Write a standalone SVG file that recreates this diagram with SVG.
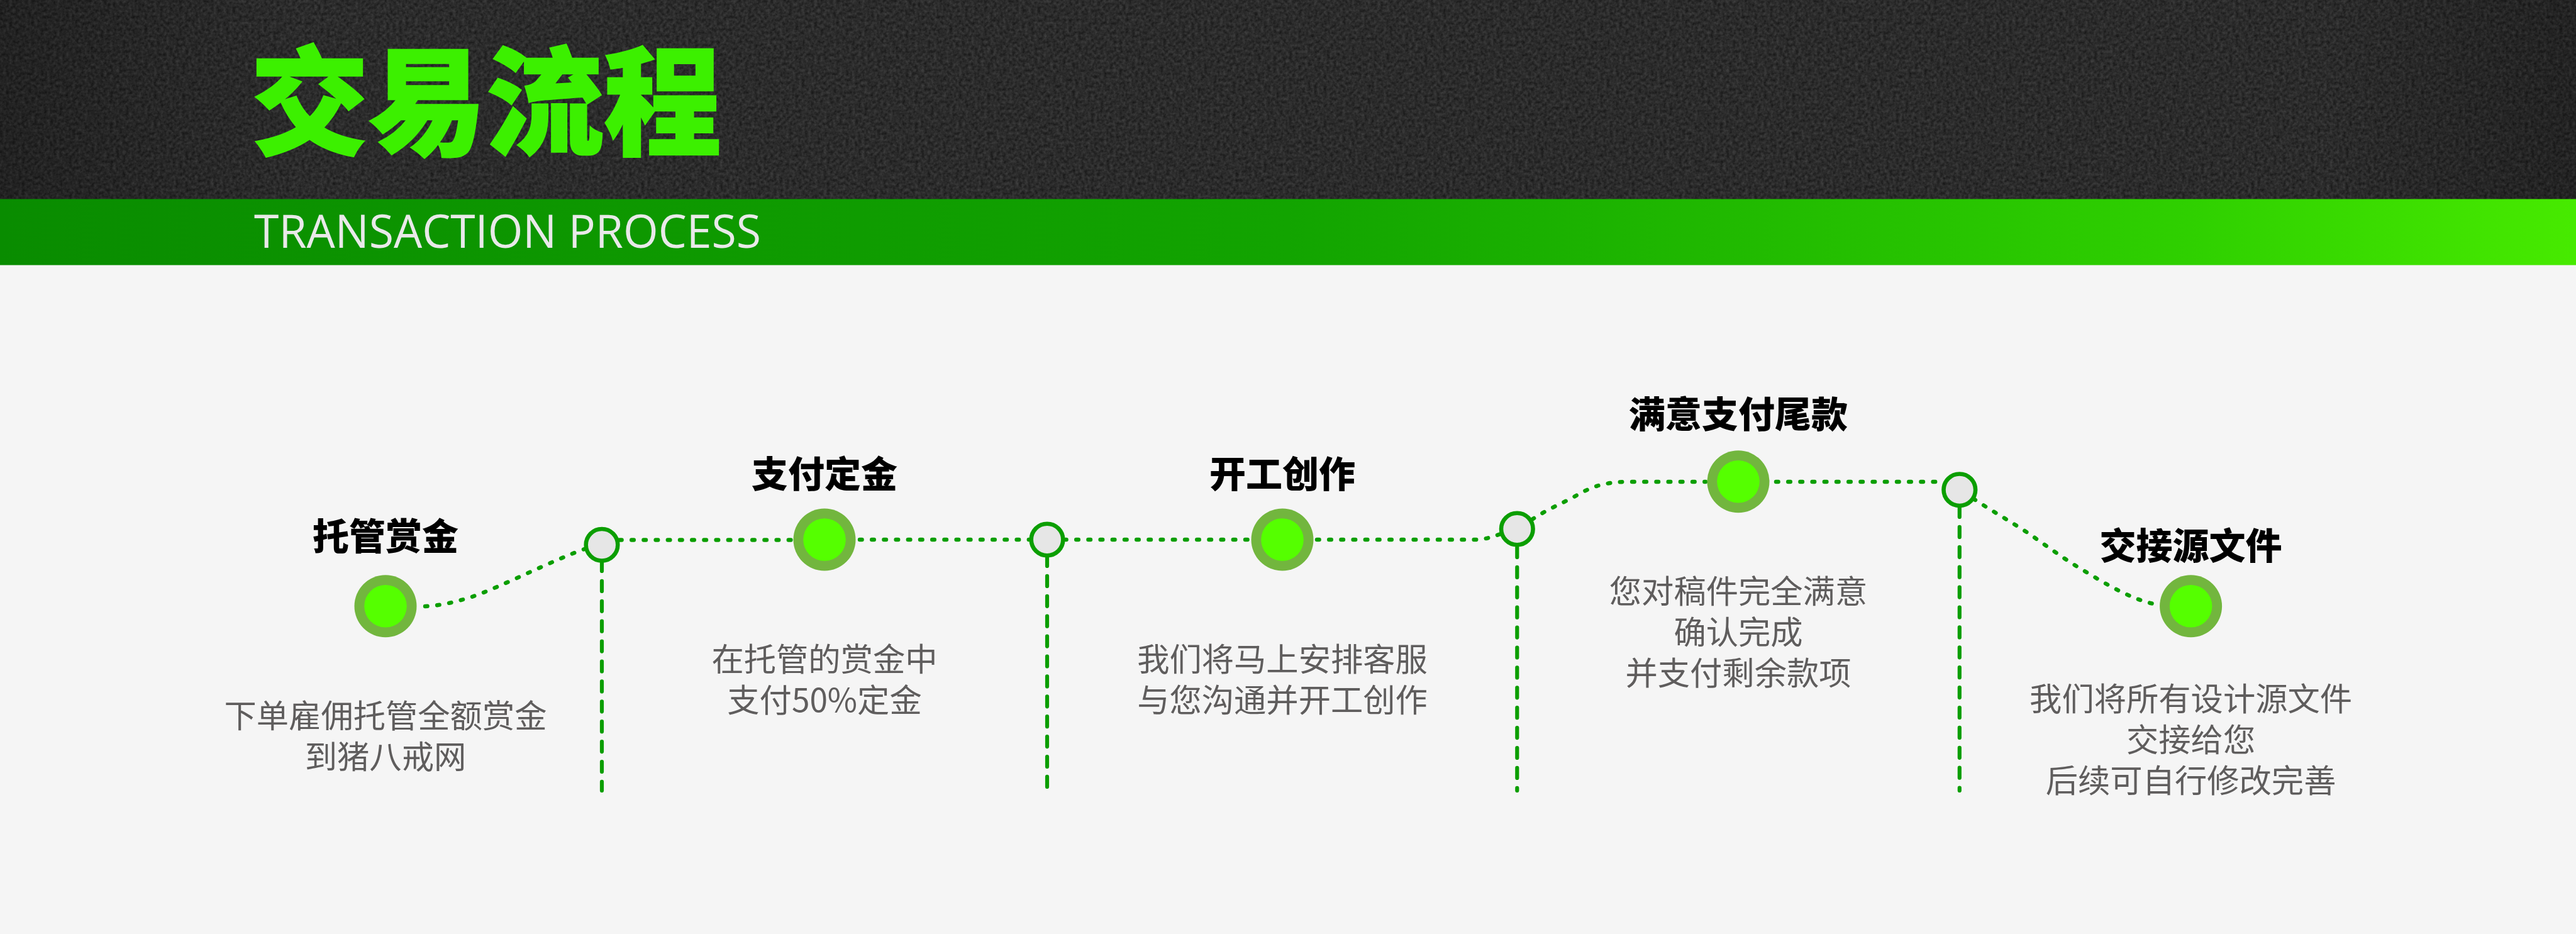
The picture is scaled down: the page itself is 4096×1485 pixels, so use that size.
<svg xmlns="http://www.w3.org/2000/svg" width="4096" height="1485" viewBox="0 0 4096 1485">
<style>
text{font-family:"Noto Sans CJK SC","Noto Sans",sans-serif}
.t{font-size:58px;font-weight:900;fill:#000;text-anchor:middle}
.d{font-size:51.3px;font-weight:400;fill:#5f5d5d;text-anchor:middle}
.o{fill:#72b63e}.i{fill:#55ff00}
.j{fill:#e6e6e6;stroke:#0b9e00;stroke-width:6.6}
.dot{fill:none;stroke:#0b9e00;stroke-width:6.4;stroke-linecap:round;stroke-dasharray:3.6 15.6}
.dash{fill:none;stroke:#0b9e00;stroke-width:6.2;stroke-linecap:round;stroke-dasharray:16 15.9}
</style>
<defs>
<filter id="noise" x="0" y="0" width="100%" height="100%" color-interpolation-filters="sRGB">
<feTurbulence type="fractalNoise" baseFrequency="0.2" numOctaves="3" seed="4"/>
<feColorMatrix values="0.2 0 0 0 0.07  0.2 0 0 0 0.07  0.2 0 0 0 0.07  0 0 0 0 1"/>
</filter>
<linearGradient id="band" x1="0" x2="1" y1="0" y2="0">
<stop offset="0" stop-color="#098c00"/><stop offset="0.5" stop-color="#12a400"/><stop offset="0.85" stop-color="#2fd000"/><stop offset="1" stop-color="#47ea00"/>
</linearGradient>
<linearGradient id="vig" x1="0" x2="1" y1="0" y2="0">
<stop offset="0" stop-color="#000" stop-opacity=".22"/><stop offset=".12" stop-color="#000" stop-opacity="0"/><stop offset=".9" stop-color="#000" stop-opacity="0"/><stop offset="1" stop-color="#000" stop-opacity=".2"/>
</linearGradient>
</defs>
<rect id="page" width="4096" height="1485" fill="#f5f5f5"/>
<g id="header">
<rect width="4096" height="317" filter="url(#noise)"/>
<rect width="4096" height="317" fill="url(#vig)"/>
<rect y="316.5" width="4096" height="105" fill="url(#band)"/>
<text x="399" y="232" font-size="187" font-weight="900" fill="#3cf000" stroke="#3cf000" stroke-width="2.5">交易流程</text>
<text x="404" y="394" font-size="73" fill="#e9e9e9" textLength="806" lengthAdjust="spacingAndGlyphs" style="font-family:'Open Sans',sans-serif">TRANSACTION PROCESS</text>
</g>
<g id="connectors">
<path class="dot" d="M676 964C700 963 725 957 750 949C795 934 880 890 932 872"/>
<path class="dot" d="M985 858.5H1262"/>
<path class="dot" d="M1367 858H1640"/>
<path class="dot" d="M1692 858H1990"/>
<path class="dot" d="M2094 858H2345C2360 858 2372 854 2386 849"/>
<path class="dot" d="M2436 826C2460 810 2480 802 2501 791C2525 777 2545 766 2590 766H2712"/>
<path class="dot" d="M2824 766H3088"/>
<path class="dot" d="M3138 793C3165 811 3195 828 3224 847C3250 865 3277 885 3303 901C3325 914 3347 928 3369 939C3387 948 3405 956 3424 960"/>
<path class="dash" d="M957 892V1257"/>
<path class="dash" d="M1665 884V1251"/>
<path class="dash" d="M2412.3 870V1257"/>
<path class="dash" d="M3115.8 806V1257"/>
</g>
<g id="junction-1"><circle class="j" cx="957" cy="866.3" r="25.3"/></g>
<g id="junction-2"><circle class="j" cx="1665" cy="858" r="25.3"/></g>
<g id="junction-3"><circle class="j" cx="2412.3" cy="841" r="25.3"/></g>
<g id="junction-4"><circle class="j" cx="3115.8" cy="778.8" r="25.3"/></g>
<g id="node-1"><circle class="o" cx="613" cy="963.8" r="49.5"/><circle class="i" cx="613" cy="963.8" r="33.8"/>
<text class="t" x="613" y="874">托管赏金</text>
<text class="d" x="613" y="1157">下单雇佣托管全额赏金</text><text class="d" x="613" y="1222">到猪八戒网</text></g>
<g id="node-2"><circle class="o" cx="1311" cy="858" r="49.5"/><circle class="i" cx="1311" cy="858" r="33.8"/>
<text class="t" x="1311" y="775">支付定金</text>
<text class="d" x="1311" y="1067">在托管的赏金中</text><text class="d" x="1311" y="1132">支付50%定金</text></g>
<g id="node-3"><circle class="o" cx="2039" cy="858" r="49.5"/><circle class="i" cx="2039" cy="858" r="33.8"/>
<text class="t" x="2039" y="775">开工创作</text>
<text class="d" x="2039" y="1067">我们将马上安排客服</text><text class="d" x="2039" y="1132">与您沟通并开工创作</text></g>
<g id="node-4"><circle class="o" cx="2764" cy="765.7" r="49.5"/><circle class="i" cx="2764" cy="765.7" r="33.8"/>
<text class="t" x="2764" y="680">满意支付尾款</text>
<text class="d" x="2764" y="959">您对稿件完全满意</text><text class="d" x="2764" y="1024">确认完成</text><text class="d" x="2764" y="1089">并支付剩余款项</text></g>
<g id="node-5"><circle class="o" cx="3483.6" cy="963.8" r="49.5"/><circle class="i" cx="3483.6" cy="963.8" r="33.8"/>
<text class="t" x="3483.6" y="889">交接源文件</text>
<text class="d" x="3483.6" y="1130">我们将所有设计源文件</text><text class="d" x="3483.6" y="1195">交接给您</text><text class="d" x="3483.6" y="1260">后续可自行修改完善</text></g>
</svg>
